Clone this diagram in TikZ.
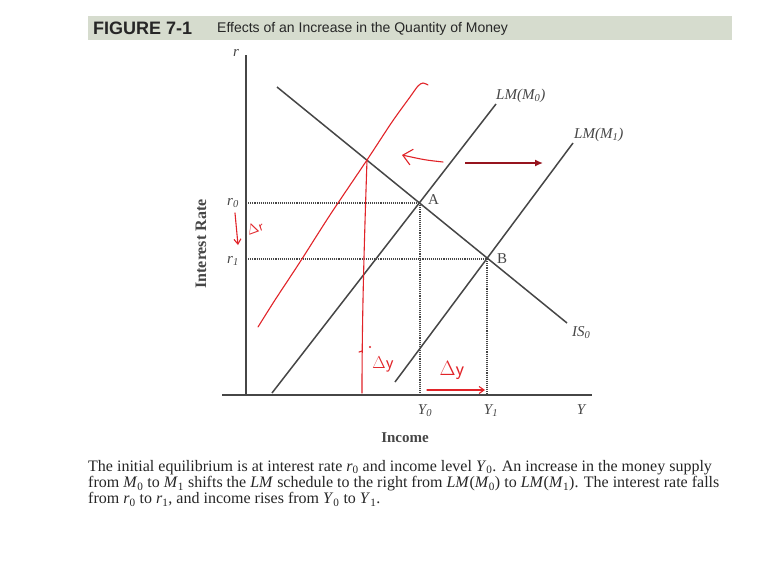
\documentclass[tikz,border=0pt]{standalone}
\usepackage{fontspec}
\setmainfont{Liberation Serif}
\newfontfamily\titlefont{Liberation Sans}
\usetikzlibrary{arrows.meta}
\definecolor{titlebg}{RGB}{214,220,206}
\definecolor{axisgray}{RGB}{70,70,70}
\definecolor{penred}{RGB}{225,35,40}
\definecolor{darkred}{RGB}{150,20,30}
\begin{document}
\begin{tikzpicture}[x=1pt,y=-1pt,
  curve/.style={draw=axisgray,line width=1.5pt},
  guide/.style={draw=axisgray,line width=1.1pt,densely dotted},
  lbl/.style={font=\fontsize{15}{17}\selectfont\itshape,text=axisgray,inner sep=0pt},
  pen/.style={draw=penred,line width=1.1pt,line cap=round,line join=round},
  pentext/.style={text=penred,inner sep=0pt,font=\fontsize{20}{20}\selectfont\sffamily}]
\useasboundingbox (0,0) rectangle (764,581);
\fill[white] (0,0) rectangle (764,581);
% title bar
\fill[titlebg] (88,16) rectangle (732,40);
\node[anchor=west,inner sep=0pt,font=\titlefont\bfseries\fontsize{18}{20}\selectfont,text=black!85] (fig) at (93,28.5) {FIGURE 7-1};
\node[anchor=west,inner sep=0pt,font=\titlefont\fontsize{14}{16}\selectfont,text=black!85] (sub) at (217,29) {Effects of an Increase in the Quantity of Money};
% key points
\coordinate (O) at (246,395);
\coordinate (ytop) at (246,55);
\coordinate (xleft) at (222,395);
\coordinate (xright) at (592,395);
\coordinate (A) at (420,203);
\coordinate (B) at (487,259);
\coordinate (r0p) at (246,203);
\coordinate (r1p) at (246,259);
\coordinate (y0p) at (420,395);
\coordinate (y1p) at (487,395);
\coordinate (IS1) at (277,87);
\coordinate (IS2) at (567,323);
\coordinate (LM0a) at (272,393);
\coordinate (LM0b) at (496,104);
\coordinate (LM1a) at (395,382);
\coordinate (LM1b) at (573,143);
% axes
\draw[curve] (ytop) -- (O);
\draw[curve] (xleft) -- (xright);
% guides
\draw[guide] (r0p) -- (A);
\draw[guide] (r1p) -- (B);
\draw[guide] (A) -- (y0p);
\draw[guide] (B) -- (y1p);
% curves
\draw[curve] (IS1) -- (IS2);
\draw[curve] (LM0a) -- (LM0b);
\draw[curve] (LM1a) -- (LM1b);
% labels
\node[lbl] (rl) at (236,53) {r};
\node[lbl] (r0l) at (233,203) {r\textsubscript{0}};
\node[lbl] (r1l) at (233,261) {r\textsubscript{1}};
\node[lbl] (Y0l) at (425,411) {Y\textsubscript{0}};
\node[lbl] (Y1l) at (491,411) {Y\textsubscript{1}};
\node[lbl] (Yl) at (581,410) {Y};
\node[lbl,font=\fontsize{15}{17}\selectfont,anchor=west] (Al) at (428,200) {A};
\node[lbl,font=\fontsize{15}{17}\selectfont,anchor=west] (Bl) at (497,259) {B};
\node[lbl,anchor=west] (ISl) at (572,333) {IS\textsubscript{0}};
\node[lbl,anchor=west] (LM0l) at (496,96) {LM(M\textsubscript{0})};
\node[lbl,anchor=west] (LM1l) at (574,135) {LM(M\textsubscript{1})};
\node[inner sep=0pt,rotate=90,font=\bfseries\fontsize{16}{18}\selectfont,text=axisgray] (irl) at (201,244) {Interest Rate};
\node[inner sep=0pt,font=\bfseries\fontsize{15}{17}\selectfont,text=axisgray] (incl) at (405,438) {Income};
% caption
\node[anchor=north west,align=left,inner sep=0pt,font=\fontsize{16}{16.2}\selectfont,text=black!85] (cap) at (88,460)
{The initial equilibrium is at interest rate \textit{r}\textsubscript{0} and income level \textit{Y}\textsubscript{0}. An increase in the money supply\\
from \textit{M}\textsubscript{0} to \textit{M}\textsubscript{1} shifts the \textit{LM} schedule to the right from \textit{LM}(\textit{M}\textsubscript{0}) to \textit{LM}(\textit{M}\textsubscript{1}). The interest rate falls\\
from \textit{r}\textsubscript{0} to \textit{r}\textsubscript{1}, and income rises from \textit{Y}\textsubscript{0} to \textit{Y}\textsubscript{1}.};
% red annotations
\coordinate (C) at (367,160);
\draw[pen] plot[smooth] coordinates {(258,327) (275,300) (300,262) (330,215) (C) (392,122) (410,97) (418,86) (423,83) (428,85)};
\draw[pen] (C) .. controls (364,250) and (362,320) .. (362,393);
\draw[pen] (362,351) -- (359,352);
\fill[penred] (370,347) circle (1.1pt);
\node[pentext,font=\fontsize{18}{18}\selectfont\sffamily] (dy1) at (383,364) {$\Delta$y};
\node[pentext] (dy2) at (452,370) {$\Delta$y};
\coordinate (ya) at (427,390);
\coordinate (yb) at (485,390);
\draw[pen,-{Straight Barb[length=5pt,width=7pt]}] (ya) -- (yb);
\coordinate (la) at (443,162);
\coordinate (lb) at (402,155);
\draw[pen,-{Straight Barb[length=9pt,width=16pt]}] (la) .. controls (425,160) .. (lb);
\coordinate (ra) at (465,163);
\coordinate (rb) at (543,163);
\draw[draw=darkred,line width=1.4pt,-{Latex[length=8pt,width=7pt]}] (ra) -- (rb);
\coordinate (da) at (235,213);
\coordinate (db) at (238,245);
\draw[pen,-{Straight Barb[length=5pt,width=7pt]}] (da) -- (db);
\node[pentext,rotate=20,font=\fontsize{14}{14}\selectfont\sffamily] (dr) at (255,228) {$\Delta$r};
\end{tikzpicture}
\end{document}
